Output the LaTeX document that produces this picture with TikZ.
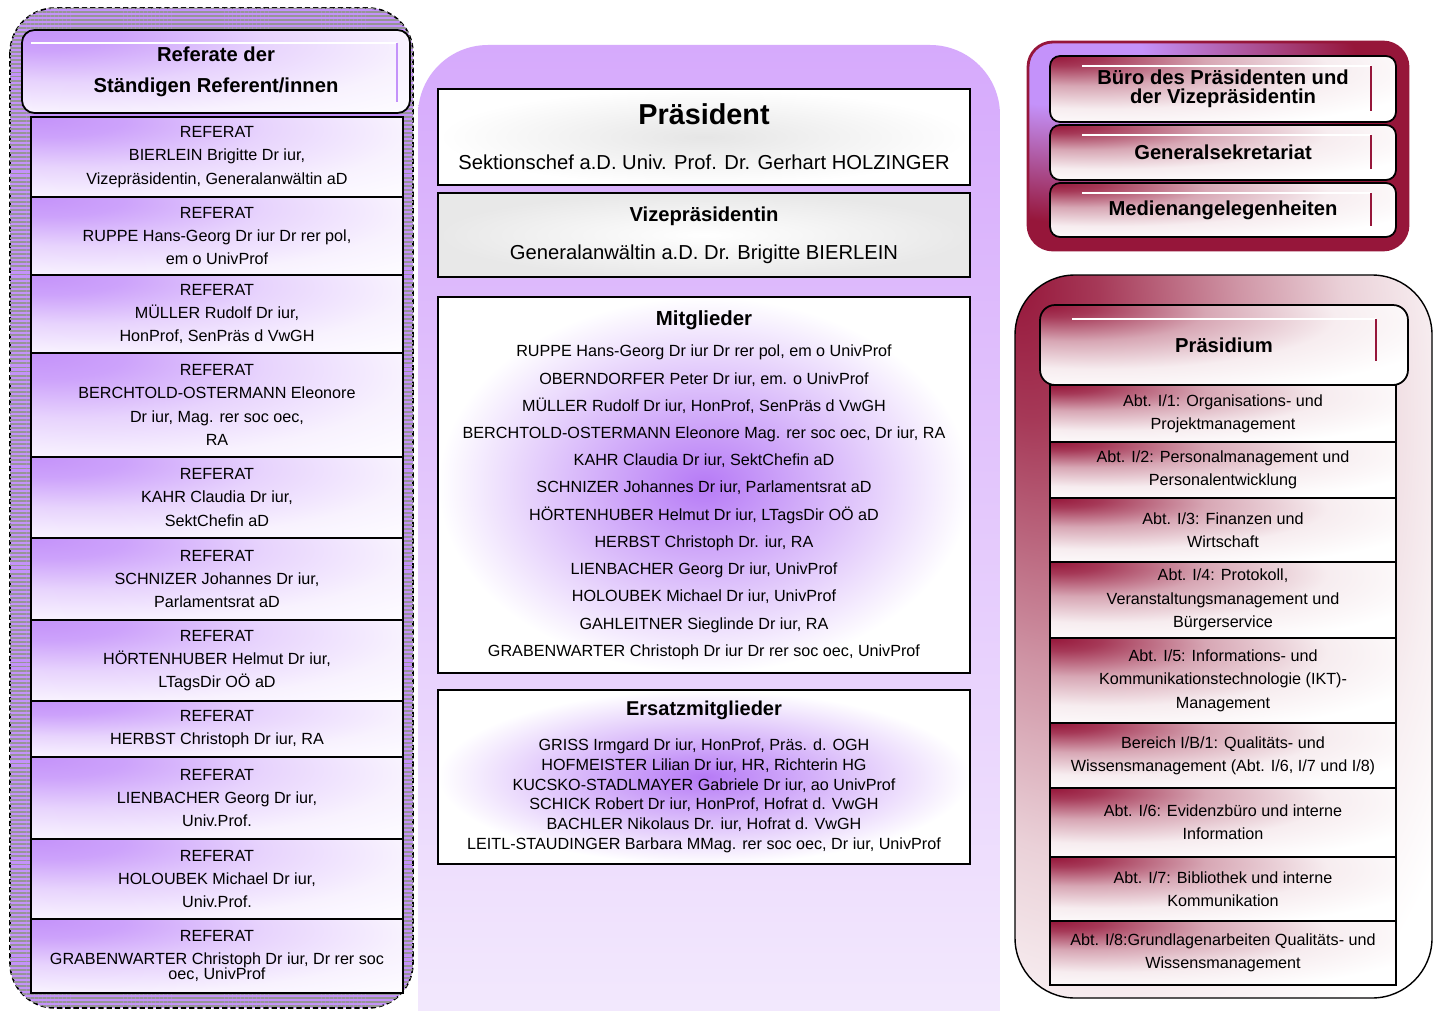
\documentclass[tikz,border=0pt]{standalone}
\usepackage{fontspec}
\setmainfont{Liberation Sans}
\usetikzlibrary{positioning,calc,patterns.meta}

\definecolor{lila}{RGB}{196,146,250}
\definecolor{lilakern}{RGB}{182,122,246}
\definecolor{lilahell}{RGB}{214,170,252}
\definecolor{lilablass}{RGB}{245,238,253}
\definecolor{weinrot}{RGB}{150,22,58}
\definecolor{streifen}{RGB}{150,150,150}

\pgfdeclareradialshading{lilaglut}{\pgfpoint{-25bp}{25bp}}{color(0bp)=(lila); color(10bp)=(lila!85); color(25bp)=(lila!40); color(40bp)=(lila!12); color(55bp)=(white); color(100bp)=(white)}
\pgfdeclareradialshading{rotglut}{\pgfpoint{-25bp}{25bp}}{color(0bp)=(weinrot); color(6bp)=(weinrot!85); color(18bp)=(weinrot!38); color(32bp)=(weinrot!8); color(45bp)=(white); color(100bp)=(white)}
\pgfdeclareradialshading{rotglutgross}{\pgfpoint{-25bp}{25bp}}{color(0bp)=(weinrot); color(8bp)=(weinrot!85); color(22bp)=(weinrot!45); color(32bp)=(weinrot!20); color(41bp)=(weinrot!7); color(48bp)=(white); color(100bp)=(white)}
\pgfdeclareradialshading{lilarot}{\pgfpoint{-25bp}{25bp}}{color(0bp)=(lila); color(12bp)=(lila); color(35bp)=(weinrot); color(100bp)=(weinrot)}

\begin{document}
\begin{tikzpicture}[x=0.02cm,y=-0.02cm,
	klein/.style={font=\fontsize{9.2}{13.3}\selectfont},
	referat/.style={draw,line width=1pt,shade,shading=lilaglut,minimum width=7.44cm,align=center,inner sep=0pt,klein},
	abt/.style={draw,line width=0.9pt,shade,shading=rotglut,minimum width=6.92cm,align=center,inner sep=0pt,klein},
	mitte/.style={draw,line width=1pt,minimum width=10.64cm,align=center,inner sep=0pt},
	stab/.style={draw,line width=1pt,rounded corners=0.2cm,shade,shading=rotglut,minimum width=6.92cm,align=center,inner sep=0pt,font=\bfseries\fontsize{11.5}{10.8}\selectfont}]

\useasboundingbox (0,0) rectangle (1435,1010);
\fill[white] (0,0) rectangle (1435,1010);

\draw[dash pattern=on 3pt off 1.7pt,line width=0.9pt,rounded corners=0.9cm,fill=lila,
	postaction={pattern={Lines[angle=0,distance=2.3pt,line width=1.1pt]},pattern color=streifen}]
	(10,8) rectangle (413,1008);

\shade[top color=lilahell,bottom color=lilablass,rounded corners=1.4cm] (418,45) rectangle (1000,1100);

\draw[weinrot,line width=1.6pt,rounded corners=0.5cm,shade,shading=lilarot] (1028,42) rectangle (1408,250);

\draw[line width=0.8pt,rounded corners=1.2cm,shade,shading=rotglutgross] (1015,275) rectangle (1432,998);

\node[draw,line width=1pt,rounded corners=0.25cm,shade,shading=lilaglut,minimum width=7.76cm,minimum height=1.66cm,align=center,inner sep=0pt,font=\bfseries\fontsize{11.5}{17.6}\selectfont]
	(titel) at (216,71.5) {Referate der\\Ständigen Referent/innen};
\draw[white,line width=1.2pt] ($(titel.north west)+(10,14)$) -- ($(titel.north east)+(-14,14)$);
\draw[lila,line width=1.2pt] ($(titel.north east)+(-14,14)$) -- ($(titel.south east)+(-14,-12)$);

\foreach \y/\h/\t [count=\i] in {
	157/1.6/{REFERAT\\BIERLEIN Brigitte Dr iur,\\Vizepräsidentin, Generalanwältin aD},
	236/1.56/{REFERAT\\RUPPE Hans-Georg Dr iur Dr rer pol,\\em o UnivProf},
	314/1.56/{REFERAT\\MÜLLER Rudolf Dr iur,\\HonProf, SenPräs d VwGH},
	405/2.08/{REFERAT\\BERCHTOLD-OSTERMANN Eleonore\\Dr iur, Mag. rer soc oec,\\RA},
	497.5/1.62/{REFERAT\\KAHR Claudia Dr iur,\\SektChefin aD},
	579/1.64/{REFERAT\\SCHNIZER Johannes Dr iur,\\Parlamentsrat aD},
	660.5/1.62/{REFERAT\\HÖRTENHUBER Helmut Dr iur,\\LTagsDir OÖ aD},
	729/1.12/{REFERAT\\HERBST Christoph Dr iur, RA},
	798/1.64/{REFERAT\\LIENBACHER Georg Dr iur,\\Univ.Prof.},
	879/1.6/{REFERAT\\HOLOUBEK Michael Dr iur,\\Univ.Prof.},
	956/1.48/{REFERAT\\GRABENWARTER Christoph Dr iur, Dr rer soc\\[-4.5pt]oec, UnivProf}} {
	\node[referat,minimum height=\h cm] (ref\i) at (217,\y) {\t};
}

\node[mitte,minimum height=1.92cm,inner color=black!10,outer color=white,font=\fontsize{11.5}{14}\selectfont]
	(praes) at (704,137) {{\bfseries\fontsize{16.4}{20}\selectfont Präsident}\\[11.5pt]Sektionschef a.D. Univ. Prof. Dr. Gerhart HOLZINGER};
\node[mitte,minimum height=1.68cm,inner color=white,outer color=black!9,font=\fontsize{11.5}{14}\selectfont]
	(vize) at (704,235) {{\bfseries Vizepräsidentin}\\[7.5pt]Generalanwältin a.D. Dr. Brigitte BIERLEIN};
\node[mitte,minimum height=7.52cm,inner color=lilakern,outer color=white,font=\fontsize{9.2}{15.5}\selectfont]
	(mitgl) at (704,485) {{\bfseries\fontsize{11.6}{14}\selectfont Mitglieder}\\[2.6pt]
	RUPPE Hans-Georg Dr iur Dr rer pol, em o UnivProf\\
	OBERNDORFER Peter Dr iur, em. o UnivProf\\
	MÜLLER Rudolf Dr iur, HonProf, SenPräs d VwGH\\
	BERCHTOLD-OSTERMANN Eleonore Mag. rer soc oec, Dr iur, RA\\
	KAHR Claudia Dr iur, SektChefin aD\\
	SCHNIZER Johannes Dr iur, Parlamentsrat aD\\
	HÖRTENHUBER Helmut Dr iur, LTagsDir OÖ aD\\
	HERBST Christoph Dr. iur, RA\\
	LIENBACHER Georg Dr iur, UnivProf\\
	HOLOUBEK Michael Dr iur, UnivProf\\
	GAHLEITNER Sieglinde Dr iur, RA\\
	GRABENWARTER Christoph Dr iur Dr rer soc oec, UnivProf};
\node[mitte,minimum height=3.48cm,inner color=lilakern,outer color=white,font=\fontsize{9.2}{11.3}\selectfont]
	(ersatz) at (704,777) {{\bfseries\fontsize{11.4}{14}\selectfont Ersatzmitglieder}\\[8.5pt]
	GRISS Irmgard Dr iur, HonProf, Präs. d. OGH\\
	HOFMEISTER Lilian Dr iur, HR, Richterin HG\\
	KUCSKO-STADLMAYER Gabriele Dr iur, ao UnivProf\\
	SCHICK Robert Dr iur, HonProf, Hofrat d. VwGH\\
	BACHLER Nikolaus Dr. iur, Hofrat d. VwGH\\
	LEITL-STAUDINGER Barbara MMag. rer soc oec, Dr iur, UnivProf};

\foreach \y/\h/\t [count=\i] in {
	89/1.32/{Büro des Präsidenten und\\der Vizepräsidentin},
	152.5/1.1/Generalsekretariat,
	210/1.08/Medienangelegenheiten} {
	\node[stab,minimum height=\h cm] (stab\i) at (1223,\y) {\t};
	\draw[white,line width=1pt] ($(stab\i.north west)+(33,11)$) -- ($(stab\i.north east)+(-26,11)$);
	\draw[weinrot,line width=1pt] ($(stab\i.north east)+(-26,11)$) -- ($(stab\i.south east)+(-26,-12)$);
}

\node[draw,line width=1pt,rounded corners=0.3cm,shade,shading=rotglut,minimum width=7.36cm,minimum height=1.6cm,inner sep=0pt,font=\bfseries\fontsize{11.5}{14}\selectfont]
	(praesidium) at (1224,345) {Präsidium};
\draw[white,line width=1pt] ($(praesidium.north west)+(33,15)$) -- ($(praesidium.north east)+(-33,15)$);
\draw[weinrot,line width=1pt] ($(praesidium.north east)+(-33,15)$) -- ($(praesidium.north east)+(-33,57)$);

\foreach \y/\h/\t [count=\i] in {
	413.5/1.14/{Abt. I/1: Organisations- und\\Projektmanagement},
	470/1.12/{Abt. I/2: Personalmanagement und\\Personalentwicklung},
	530/1.28/{Abt. I/3: Finanzen und\\Wirtschaft},
	600/1.52/{Abt. I/4: Protokoll,\\Veranstaltungsmanagement und\\Bürgerservice},
	680.5/1.7/{Abt. I/5: Informations- und\\Kommunikationstechnologie (IKT)-\\Management},
	755.5/1.3/{Bereich I/B/1: Qualitäts- und\\Wissensmanagement (Abt. I/6, I/7 und I/8)},
	822.5/1.38/{Abt. I/6: Evidenzbüro und interne\\Information},
	889/1.28/{Abt. I/7: Bibliothek und interne\\Kommunikation},
	953/1.28/{Abt. I/8:Grundlagenarbeiten Qualitäts- und\\Wissensmanagement}} {
	\node[abt,minimum height=\h cm] (abt\i) at (1223,\y) {\t};
}

\end{tikzpicture}
\end{document}
